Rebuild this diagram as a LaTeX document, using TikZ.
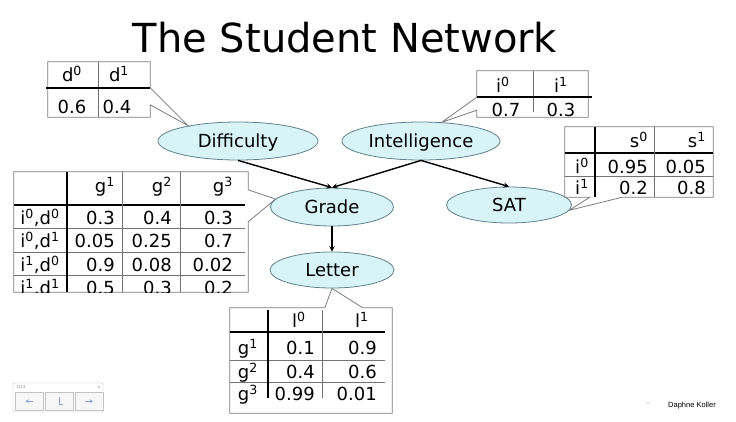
\documentclass[tikz,border=0pt]{standalone}
\usepackage{fontspec}
\setmainfont{DejaVu Sans}
\newfontfamily\creditfont{Liberation Sans}
\usepackage{tikz}
\usetikzlibrary{shapes.geometric, arrows}
\definecolor{nodefill}{RGB}{216,244,247}
\definecolor{nodeline}{RGB}{95,130,140}
\definecolor{framegray}{RGB}{125,125,125}
\definecolor{rulegray}{RGB}{115,115,115}
\definecolor{widgetgray}{RGB}{195,195,195}
\definecolor{widgetblue}{RGB}{130,160,215}
\tikzstyle{var} = [ellipse, draw=nodeline, line width=0.8pt, fill=nodefill, inner sep=0pt, minimum height=38pt, text height=13pt, text depth=0pt, font=\fontsize{18}{20}\selectfont]
\tikzstyle{tabframe} = [rectangle, inner sep=0pt]
\tikzstyle{callout} = [draw=framegray, line width=0.8pt]
\tikzstyle{cell} = [inner sep=0pt, text height=13pt, text depth=0pt, font=\fontsize{18}{20}\selectfont]
\tikzstyle{boldrule} = [black, line width=1.6pt]
\tikzstyle{thinrule} = [rulegray, line width=0.8pt]
\tikzstyle{arrow} = [line width=1.4pt,->,>=stealth]
\newcommand{\up}[2]{#1\textsuperscript{#2}}
\newcommand{\cond}[2]{i\textsuperscript{#1},d\textsuperscript{#2}}

\begin{document}
\begin{tikzpicture}[x=1pt, y=-1pt]
        \fill [white] (0,0) rectangle (736,421);
        \useasboundingbox (0,0) rectangle (736,421);
        \node (title) [anchor=base, font=\fontsize{40}{44}\selectfont] at (345,52) {The Student Network};

        % variables
        \node (diff) [var, minimum width=160pt] at (238,141) {Difficulty};
        \node (intel) [var, minimum width=158pt] at (421,141) {Intelligence};
        \node (grade) [var, minimum width=123pt] at (332,207) {Grade};
        \node (sat) [var, minimum width=125pt, minimum height=36pt] at (509,205) {SAT};
        \node (letter) [var, minimum width=124pt, minimum height=36pt] at (332,270) {Letter};

        \draw [arrow] (diff.south) -- (grade.north);
        \draw [arrow] (intel.south) -- (grade.north);
        \draw [arrow] (intel.south) -- (sat.north);
        \draw [arrow] (grade) -- (letter);

        % P(D)
        \node (dtab) [tabframe, minimum width=102pt, minimum height=55pt] at (99,89.5) {};
        \draw [callout] (dtab.north west) -- (dtab.north east) -- ([yshift=-26pt]dtab.north east) -- (diff.163) -- ([yshift=-43pt]dtab.north east) -- (dtab.south east) -- (dtab.south west) -- cycle;
        \draw [thinrule] (98,62) -- (98,117);
        \draw [boldrule] (46,88) -- (150,88);
        \begin{scope}
            \clip (dtab.north west) rectangle (dtab.south east);
            \node (d-0-1) [cell] at (72,75) {\up{d}{0}};
            \node (d-0-2) [cell] at (119,75) {\up{d}{1}};
            \node (d-1-1) [cell] at (72,107) {0.6};
            \node (d-1-2) [cell] at (117,107) {0.4};
        \end{scope}

        % P(I)
        \node (itab) [tabframe, minimum width=111pt, minimum height=46pt] at (532.5,94) {};
        \draw [callout] (itab.north west) -- (itab.north east) -- (itab.south east) -- (itab.south west) -- ([yshift=7pt]itab.south west) -- (intel.42) -- ([yshift=20pt]itab.south west) -- cycle;
        \draw [thinrule] (533,71) -- (533,112);
        \draw [boldrule] (477,97) -- (592,97);
        \begin{scope}
            \clip (itab.north west) rectangle (itab.south east);
            \node (i-0-1) [cell] at (503,86) {\up{i}{0}};
            \node (i-0-2) [cell] at (561,86) {\up{i}{1}};
            \node (i-1-1) [cell] at (506,110) {0.7};
            \node (i-1-2) [cell] at (561,110) {0.3};
        \end{scope}

        % P(S|I)
        \node (stab) [tabframe, minimum width=148pt, minimum height=70pt] at (639,162) {};
        \draw [callout] (stab.north west) -- (stab.north east) -- (stab.south east) -- ([xshift=-91pt]stab.south east) -- (sat.-5) -- ([xshift=25pt]stab.south west) -- (stab.south west) -- cycle;
        \draw [boldrule] (565,153) -- (713,153);
        \draw [thinrule] (565,176) -- (713,176);
        \draw [boldrule] (595,127) -- (595,197);
        \draw [thinrule] (654,127) -- (654,197);
        \node (s-0-1) [cell, anchor=east] at (648,141) {\up{s}{0}};
        \node (s-0-2) [cell, anchor=east] at (706,141) {\up{s}{1}};
        \foreach \y/\a/\b [count=\row from 0] in {167/0.95/0.05, 188/0.2/0.8} {
            \node (s-\row-0) [cell] at (582,\y) {\up{i}{\row}};
            \node (s-\row-1) [cell, anchor=east] at (648,\y) {\a};
            \node (s-\row-2) [cell, anchor=east] at (706,\y) {\b};
        }

        % P(G|I,D)
        \node (gtab) [tabframe, minimum width=234pt, minimum height=120pt] at (131,232) {};
        \draw [callout] (gtab.north west) -- (gtab.north east) -- ([yshift=-18pt]gtab.north east) -- (grade.172) -- ([yshift=-50pt]gtab.north east) -- (gtab.south east) -- (gtab.south west) -- cycle;
        \draw [boldrule] (14,205) -- (245,205);
        \foreach \y in {228,252,275}
            \draw [thinrule] (14,\y) -- (245,\y);
        \draw [boldrule] (67,172) -- (67,292);
        \draw [thinrule] (122,172) -- (122,292);
        \draw [thinrule] (180,172) -- (180,292);
        \begin{scope}
            \clip (gtab.north west) rectangle (gtab.south east);
            \foreach \x [count=\n] in {115,172,233}
                \node (g-0-\n) [cell, anchor=east] at (\x,186) {\up{g}{\n}};
            \foreach \lab/\y/\a/\b/\c [count=\row] in {\cond{0}{0}/218/0.3/0.4/0.3, \cond{0}{1}/241/0.05/0.25/0.7, \cond{1}{0}/265/0.9/0.08/0.02, \cond{1}{1}/288/0.5/0.3/0.2} {
                \node (g-\row-0) [cell] at (40,\y) {\lab};
                \node (g-\row-1) [cell, anchor=east] at (115,\y) {\a};
                \node (g-\row-2) [cell, anchor=east] at (172,\y) {\b};
                \node (g-\row-3) [cell, anchor=east] at (233,\y) {\c};
            }
        \end{scope}

        % P(L|G)
        \node (ltab) [tabframe, minimum width=162pt, minimum height=105pt] at (311,360.5) {};
        \draw [callout] (ltab.north west) -- ([xshift=95pt]ltab.north west) -- (letter.south) -- ([xshift=133pt]ltab.north west) -- (ltab.north east) -- (ltab.south east) -- (ltab.south west) -- cycle;
        \draw [boldrule] (230,332) -- (385,332);
        \draw [thinrule] (230,360) -- (385,360);
        \draw [thinrule] (230,382) -- (385,382);
        \draw [boldrule] (268,310) -- (268,398);
        \draw [thinrule] (322,310) -- (322,398);
        \node (l-0-1) [cell] at (299,321) {\up{l}{0}};
        \node (l-0-2) [cell] at (362,321) {\up{l}{1}};
        \foreach \y/\a/\b [count=\row] in {348/0.1/0.9, 372/0.4/0.6, 394/0.99/0.01} {
            \node (l-\row-0) [cell, anchor=east] at (258,\y) {\up{g}{\row}};
            \node (l-\row-1) [cell, anchor=east] at (315,\y) {\a};
            \node (l-\row-2) [cell, anchor=east] at (377,\y) {\b};
        }

        % player widget and credit
        \draw [widgetgray, rounded corners=2pt] (13,383) rectangle (103,412);
        \node (w-page) [font=\fontsize{4}{4}\selectfont, text=gray] at (21,387) {2/13};
        \node (w-close) [font=\fontsize{4}{4}\selectfont, text=gray] at (99,387) {x};
        \foreach \x [count=\n] in {15,45,75}
            \node (w-\n) [draw=widgetgray, fill=gray!6, minimum width=28pt, minimum height=18pt, anchor=north west, inner sep=0pt] at (\x,392) {};
        \draw [widgetblue, line width=0.6pt, ->, >=stealth] ([xshift=4pt]w-1.center) -- ([xshift=-4pt]w-1.center);
        \draw [widgetblue, line width=0.6pt] ([yshift=4pt]w-2.center) -- ([yshift=-3pt]w-2.center) -- ([xshift=4pt, yshift=-3pt]w-2.center);
        \draw [widgetblue, line width=0.6pt, ->, >=stealth] ([xshift=-4pt]w-3.center) -- ([xshift=4pt]w-3.center);
        \fill [gray] (648,403) circle (0.6pt);
        \node (credit) [font=\creditfont\fontsize{7.5}{8}\selectfont] at (692,406) {Daphne Koller};
\end{tikzpicture}
\end{document}
